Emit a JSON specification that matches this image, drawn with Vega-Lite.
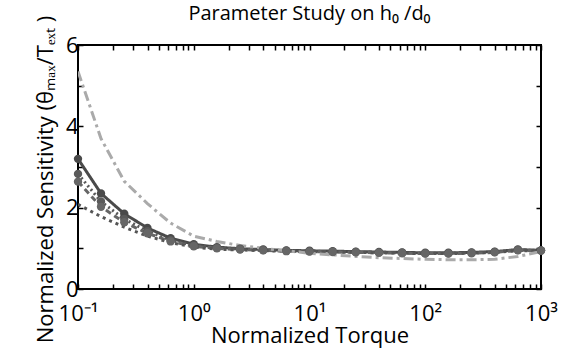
{
  "$schema": "https://vega.github.io/schema/vega-lite/v6.json",
  "width": 463,
  "height": 244,
  "autosize": {"type": "none"},
  "padding": {"left": 78, "top": 45, "right": 25, "bottom": 60},
  "background": "white",
  "title": {"text": "Parameter Study on h₀ /d₀", "fontSize": 20, "font": "Open Sans", "fontWeight": "normal", "offset": -9, "color": "black"},
  "config": {
    "view": {"stroke": "black", "strokeWidth": 2},
    "axis": {"grid": false, "domain": false, "tickColor": "black", "tickWidth": 1.5, "labelFont": "Open Sans", "labelFontSize": 22, "labelColor": "black", "titleFont": "Open Sans", "titleFontSize": 22, "titleFontWeight": "normal", "titleColor": "black", "labelOverlap": false, "labelBound": false, "labelFlush": false}
  },
  "data": {"values": [
    {"t":0.1,"s":3.2,"k":"A"},{"t":0.158,"s":2.35,"k":"A"},{"t":0.251,"s":1.85,"k":"A"},{"t":0.398,"s":1.5,"k":"A"},{"t":0.631,"s":1.25,"k":"A"},{"t":1,"s":1.1,"k":"A"},{"t":1.585,"s":1.03,"k":"A"},{"t":2.512,"s":0.99,"k":"A"},{"t":3.981,"s":0.97,"k":"A"},{"t":6.31,"s":0.95,"k":"A"},{"t":10,"s":0.94,"k":"A"},{"t":15.85,"s":0.93,"k":"A"},{"t":25.12,"s":0.92,"k":"A"},{"t":39.81,"s":0.91,"k":"A"},{"t":63.1,"s":0.9,"k":"A"},{"t":100,"s":0.89,"k":"A"},{"t":158.5,"s":0.89,"k":"A"},{"t":251.2,"s":0.9,"k":"A"},{"t":398.1,"s":0.92,"k":"A"},{"t":631,"s":0.97,"k":"A"},{"t":1000,"s":0.95,"k":"A"},
    {"t":0.1,"s":2.83,"k":"B"},{"t":0.158,"s":2.15,"k":"B"},{"t":0.251,"s":1.72,"k":"B"},{"t":0.398,"s":1.42,"k":"B"},{"t":0.631,"s":1.2,"k":"B"},{"t":1,"s":1.07,"k":"B"},{"t":1.585,"s":1.01,"k":"B"},{"t":2.512,"s":0.98,"k":"B"},{"t":3.981,"s":0.96,"k":"B"},{"t":6.31,"s":0.94,"k":"B"},{"t":10,"s":0.93,"k":"B"},{"t":15.85,"s":0.92,"k":"B"},{"t":25.12,"s":0.91,"k":"B"},{"t":39.81,"s":0.9,"k":"B"},{"t":63.1,"s":0.89,"k":"B"},{"t":100,"s":0.88,"k":"B"},{"t":158.5,"s":0.88,"k":"B"},{"t":251.2,"s":0.89,"k":"B"},{"t":398.1,"s":0.91,"k":"B"},{"t":631,"s":0.96,"k":"B"},{"t":1000,"s":0.95,"k":"B"},
    {"t":0.1,"s":2.64,"k":"C"},{"t":0.158,"s":2.02,"k":"C"},{"t":0.251,"s":1.64,"k":"C"},{"t":0.398,"s":1.37,"k":"C"},{"t":0.631,"s":1.17,"k":"C"},{"t":1,"s":1.05,"k":"C"},{"t":1.585,"s":1.0,"k":"C"},{"t":2.512,"s":0.97,"k":"C"},{"t":3.981,"s":0.95,"k":"C"},{"t":6.31,"s":0.93,"k":"C"},{"t":10,"s":0.92,"k":"C"},{"t":15.85,"s":0.91,"k":"C"},{"t":25.12,"s":0.9,"k":"C"},{"t":39.81,"s":0.89,"k":"C"},{"t":63.1,"s":0.88,"k":"C"},{"t":100,"s":0.87,"k":"C"},{"t":158.5,"s":0.87,"k":"C"},{"t":251.2,"s":0.88,"k":"C"},{"t":398.1,"s":0.9,"k":"C"},{"t":631,"s":0.95,"k":"C"},{"t":1000,"s":0.94,"k":"C"},
    {"t":0.1,"s":2.08,"k":"D"},{"t":0.158,"s":1.78,"k":"D"},{"t":0.251,"s":1.52,"k":"D"},{"t":0.398,"s":1.3,"k":"D"},{"t":0.631,"s":1.14,"k":"D"},{"t":1,"s":1.03,"k":"D"},{"t":1.585,"s":0.98,"k":"D"},{"t":2.512,"s":0.96,"k":"D"},{"t":3.981,"s":0.94,"k":"D"},{"t":6.31,"s":0.93,"k":"D"},{"t":10,"s":0.92,"k":"D"},{"t":15.85,"s":0.91,"k":"D"},{"t":25.12,"s":0.9,"k":"D"},{"t":39.81,"s":0.89,"k":"D"},{"t":63.1,"s":0.88,"k":"D"},{"t":100,"s":0.87,"k":"D"},{"t":158.5,"s":0.87,"k":"D"},{"t":251.2,"s":0.88,"k":"D"},{"t":398.1,"s":0.9,"k":"D"},{"t":631,"s":0.94,"k":"D"},{"t":1000,"s":0.94,"k":"D"},
    {"t":0.1,"s":5.35,"k":"E"},{"t":0.158,"s":3.7,"k":"E"},{"t":0.251,"s":2.65,"k":"E"},{"t":0.398,"s":2.1,"k":"E"},{"t":0.631,"s":1.62,"k":"E"},{"t":1,"s":1.3,"k":"E"},{"t":1.585,"s":1.17,"k":"E"},{"t":2.512,"s":1.07,"k":"E"},{"t":3.981,"s":1.0,"k":"E"},{"t":6.31,"s":0.94,"k":"E"},{"t":10,"s":0.88,"k":"E"},{"t":15.85,"s":0.84,"k":"E"},{"t":25.12,"s":0.8,"k":"E"},{"t":39.81,"s":0.77,"k":"E"},{"t":63.1,"s":0.75,"k":"E"},{"t":100,"s":0.73,"k":"E"},{"t":158.5,"s":0.72,"k":"E"},{"t":251.2,"s":0.72,"k":"E"},{"t":398.1,"s":0.73,"k":"E"},{"t":631,"s":0.8,"k":"E"},{"t":1000,"s":0.92,"k":"E"}
  ]},
  "resolve": {"axis": {"x": "independent", "y": "independent"}},
  "layer": [
    {
      "mark": {"type": "line", "strokeWidth": 3, "clip": true},
      "encoding": {
        "x": {"field": "t", "type": "quantitative", "scale": {"type": "log", "domain": [0.1, 1000], "nice": false},
          "axis": {"orient": "bottom", "title": "Normalized Torque", "titlePadding": 1, "tickSize": -5, "labelPadding": 19,
            "values": [0.1,0.2,0.3,0.4,0.5,0.6,0.7,0.8,0.9,1,2,3,4,5,6,7,8,9,10,20,30,40,50,60,70,80,90,100,200,300,400,500,600,700,800,900,1000],
            "labelExpr": "datum.value==0.1?'10⁻¹':datum.value==1?'10⁰':datum.value==10?'10¹':datum.value==100?'10²':datum.value==1000?'10³':''"}},
        "y": {"field": "s", "type": "quantitative", "scale": {"domain": [0, 6], "nice": false},
          "axis": {"orient": "left", "title": "Normalized Sensitivity (θₘₐₓ/Tₑₓₜ )", "titleFontSize": 22, "titleY": 134, "titlePadding": 8, "tickSize": -5, "labelPadding": 5,
            "values": [0,1,2,3,4,5,6], "labelExpr": "datum.value%2==0?datum.label:''"}},
        "color": {"field": "k", "type": "nominal", "legend": null, "scale": {"domain": ["A","B","C","D","E"], "range": ["#4a4a4a","#5a5a5a","#666666","#555555","#aaaaaa"]}},
        "strokeDash": {"field": "k", "type": "nominal", "legend": null, "scale": {"domain": ["A","B","C","D","E"], "range": [[1,0],[2,3],[6,4],[3,4],[10,4,3,4]]}}
      }
    },
    {
      "transform": [{"filter": "datum.k=='A'||datum.k=='B'||datum.k=='C'"}],
      "mark": {"type": "point", "filled": true, "size": 70, "opacity": 1, "clip": false},
      "encoding": {
        "x": {"field": "t", "type": "quantitative", "scale": {"type": "log", "domain": [0.1, 1000], "nice": false},
          "axis": {"orient": "top", "title": null, "labels": false, "tickSize": -5,
            "values": [0.1,0.2,0.3,0.4,0.5,0.6,0.7,0.8,0.9,1,2,3,4,5,6,7,8,9,10,20,30,40,50,60,70,80,90,100,200,300,400,500,600,700,800,900,1000]}},
        "y": {"field": "s", "type": "quantitative", "scale": {"domain": [0, 6], "nice": false},
          "axis": {"orient": "right", "title": null, "labels": false, "tickSize": -5, "values": [0,1,2,3,4,5,6]}},
        "color": {"field": "k", "type": "nominal", "legend": null}
      }
    }
  ]
}
